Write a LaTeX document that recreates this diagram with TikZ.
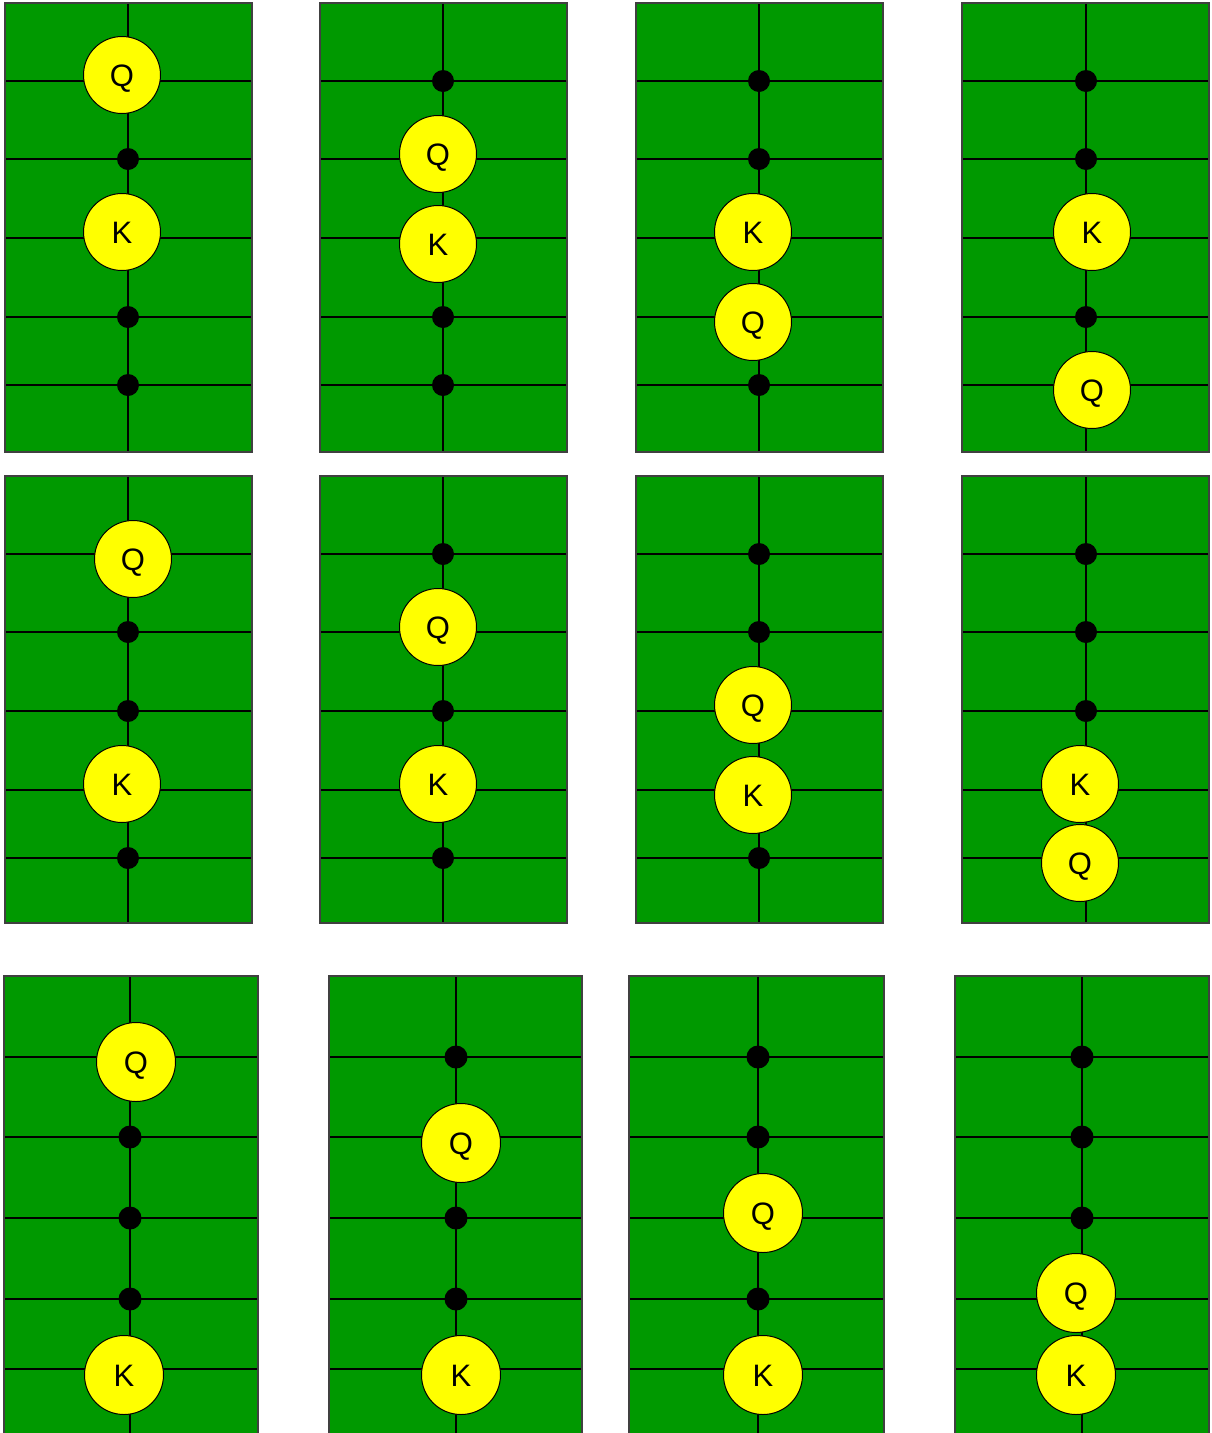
\documentclass[tikz,border=0pt]{standalone}
\usepackage{fontspec}
\setmainfont{Liberation Sans}
\definecolor{boardgreen}{RGB}{0,153,0}
\definecolor{pieceyellow}{RGB}{255,255,0}
\newcommand\myboard[6]{%
  \path[boardfill] (#1,#3) rectangle (#2,#4);
  \foreach \yy in {#6} {\draw[gridline] (#1,\yy) -- (#2,\yy);}
  \draw[gridline] (#5,#3) -- (#5,#4);
  \draw[boardedge] (#1,#3) rectangle (#2,#4);
}
\begin{document}
\begin{tikzpicture}[x=1pt,y=-1pt,
  boardfill/.style={fill=boardgreen},
  boardedge/.style={draw=black!75, line width=1.3},
  gridline/.style={draw=black, line width=1.4},
  dot/.style={circle, fill=black, minimum size=22, inner sep=0pt},
  bigdot/.style={dot, minimum size=23},
  piece/.style={circle, fill=pieceyellow, draw=black, line width=1, minimum size=77, inner sep=0pt, text height=22pt, text depth=0pt, font=\fontsize{31}{31}\selectfont},
  bigpiece/.style={piece, minimum size=79}]
\useasboundingbox (0,0) rectangle (1211,1433);
\clip (0,0) rectangle (1211,1433);
\fill[white] (0,0) rectangle (1211,1433);

% ---------- Row 1 ----------
\myboard{5}{252}{3}{452}{128}{81,159,238,317,385}
\myboard{320}{567}{3}{452}{443}{81,159,238,317,385}
\myboard{636}{883}{3}{452}{759}{81,159,238,317,385}
\myboard{962}{1209}{3}{452}{1086}{81,159,238,317,385}

\node[dot] (a1d1) at (128,159) {};
\node[dot] (a1d2) at (128,317) {};
\node[dot] (a1d3) at (128,385) {};
\node[piece] (a1q) at (122,75) {Q};
\node[piece] (a1k) at (122,232) {K};

\node[dot] (a2d1) at (443,81) {};
\node[dot] (a2d2) at (443,317) {};
\node[dot] (a2d3) at (443,385) {};
\node[piece] (a2q) at (438,154) {Q};
\node[piece] (a2k) at (438,244) {K};

\node[dot] (a3d1) at (759,81) {};
\node[dot] (a3d2) at (759,159) {};
\node[dot] (a3d3) at (759,385) {};
\node[piece] (a3k) at (753,232) {K};
\node[piece] (a3q) at (753,322) {Q};

\node[dot] (a4d1) at (1086,81) {};
\node[dot] (a4d2) at (1086,159) {};
\node[dot] (a4d3) at (1086,317) {};
\node[piece] (a4k) at (1092,232) {K};
\node[piece] (a4q) at (1092,390) {Q};

% ---------- Row 2 ----------
\myboard{5}{252}{476}{923}{128}{554,632,711,790,858}
\myboard{320}{567}{476}{923}{443}{554,632,711,790,858}
\myboard{636}{883}{476}{923}{759}{554,632,711,790,858}
\myboard{962}{1209}{476}{923}{1086}{554,632,711,790,858}

\node[dot] (b1d1) at (128,632) {};
\node[dot] (b1d2) at (128,711) {};
\node[dot] (b1d3) at (128,858) {};
\node[piece] (b1q) at (133,559) {Q};
\node[piece] (b1k) at (122,784) {K};

\node[dot] (b2d1) at (443,554) {};
\node[dot] (b2d2) at (443,711) {};
\node[dot] (b2d3) at (443,858) {};
\node[piece] (b2q) at (438,627) {Q};
\node[piece] (b2k) at (438,784) {K};

\node[dot] (b3d1) at (759,554) {};
\node[dot] (b3d2) at (759,632) {};
\node[dot] (b3d3) at (759,858) {};
\node[piece] (b3q) at (753,705) {Q};
\node[piece] (b3k) at (753,795) {K};

\node[dot] (b4d1) at (1086,554) {};
\node[dot] (b4d2) at (1086,632) {};
\node[dot] (b4d3) at (1086,711) {};
\node[piece] (b4k) at (1080,784) {K};
\node[piece] (b4q) at (1080,863) {Q};

% ---------- Row 3 ----------
\myboard{4}{258}{976}{1437}{130}{1057,1137,1218,1299,1369}
\myboard{329}{582}{976}{1437}{456}{1057,1137,1218,1299,1369}
\myboard{629}{884}{976}{1437}{758}{1057,1137,1218,1299,1369}
\myboard{955}{1209}{976}{1437}{1082}{1057,1137,1218,1299,1369}

\node[bigdot] (c1d1) at (130,1137) {};
\node[bigdot] (c1d2) at (130,1218) {};
\node[bigdot] (c1d3) at (130,1299) {};
\node[bigpiece] (c1q) at (136,1062) {Q};
\node[bigpiece] (c1k) at (124,1375) {K};

\node[bigdot] (c2d1) at (456,1057) {};
\node[bigdot] (c2d2) at (456,1218) {};
\node[bigdot] (c2d3) at (456,1299) {};
\node[bigpiece] (c2q) at (461,1143) {Q};
\node[bigpiece] (c2k) at (461,1375) {K};

\node[bigdot] (c3d1) at (758,1057) {};
\node[bigdot] (c3d2) at (758,1137) {};
\node[bigdot] (c3d3) at (758,1299) {};
\node[bigpiece] (c3q) at (763,1213) {Q};
\node[bigpiece] (c3k) at (763,1375) {K};

\node[bigdot] (c4d1) at (1082,1057) {};
\node[bigdot] (c4d2) at (1082,1137) {};
\node[bigdot] (c4d3) at (1082,1218) {};
\node[bigpiece] (c4q) at (1076,1293) {Q};
\node[bigpiece] (c4k) at (1076,1375) {K};
\end{tikzpicture}
\end{document}
